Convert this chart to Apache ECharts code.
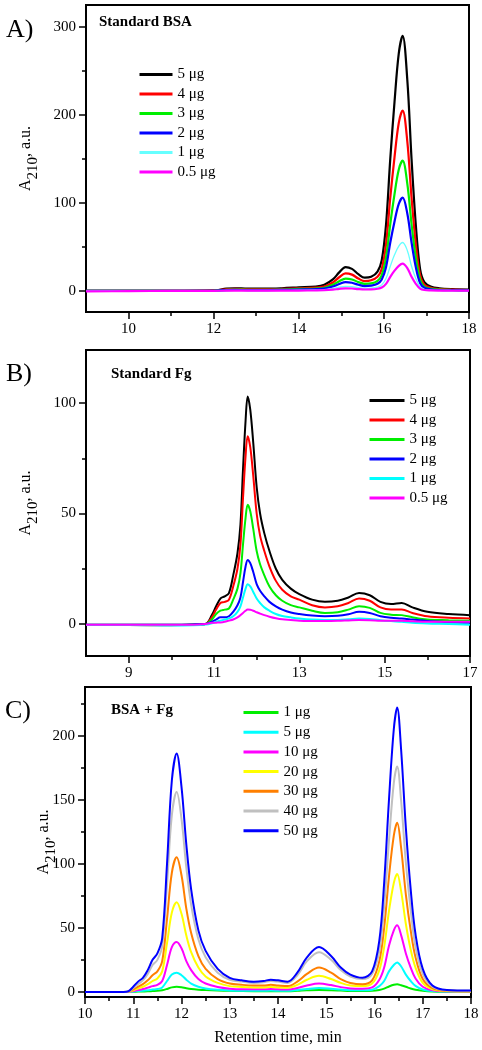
<!DOCTYPE html>
<html><head><meta charset="utf-8">
<script src="https://cdn.jsdelivr.net/npm/echarts@6/dist/echarts.min.js"></script>
<style>html,body{margin:0;padding:0;background:#fff}#c{width:482px;height:1050px}</style>
</head><body><div id="c"></div>
<script>
// ---------- Panel A: Standard BSA ----------
const tA = [9,10,11,12,12.3,12.5,12.8,13.2,13.6,14.0,14.4,14.6,14.8,14.95,15.1,15.25,15.4,15.55,15.7,15.85,15.95,16.05,16.15,16.25,16.35,16.44,16.55,16.65,16.75,16.85,16.95,17.1,17.3,17.6,18];
const aNames = ['5 μg','4 μg','3 μg','2 μg','1 μg','0.5 μg'];
const aColors = ['#000000','#ff0000','#00ee00','#0000ff','#66ffff','#ff00ff'];
const a5 = [0,0,0,0.5,2.5,3,2.5,2.5,3,4,5,7,13,21,27,25,19,15,16,22,35,75,150,215,270,290,240,150,75,25,10,5,3,2,1.5];
const a4 = [0,0,0,0.3,1.8,2.2,1.8,1.8,2.2,3,3.7,5,9.5,15.5,20,18.5,14,11,12,16,25,53,106,152,191,205,170,106,53,18,7,3.5,2,1.5,1];
const a3 = [0,0,0,0.2,1.3,1.6,1.3,1.3,1.6,2.2,2.7,3.6,7,11,14,13,10,8,8.5,11.5,18,38,76,110,138,148,122,76,38,13,5,2.5,1.5,1,0.7];
const a2 = [0,0,0,0.1,0.9,1.1,0.9,0.9,1.1,1.5,1.9,2.6,5,7.8,10,9.2,7,5.5,6,8.2,13,27,55,79,99,106,88,55,27,9,3.5,1.8,1,0.7,0.5];
const a1 = [0,0,0,0,0.5,0.6,0.5,0.5,0.6,0.8,1,1.4,2.7,4.2,5.2,4.8,3.6,2.9,3.1,4.3,6.8,14,28,41,51,55,46,28,14,4.7,1.8,0.9,0.5,0.4,0.3];
const a05 = [-0.5,-0.3,0,0,0.3,0.3,0.3,0.3,0.3,0.4,0.5,0.7,1.4,2.3,2.9,2.7,2,1.6,1.7,2.4,3.8,8,16,23,28.5,31,26,16,8,2.6,1,0.5,0.3,0.2,0.2];
const aYLabels = [0,100,200,300], aYMinor = [50,150,250];
const aXLabels = [10,12,14,16,18], aXMinor = [11,13,15,17];

// ---------- Panel B: Standard Fg ----------
const tB = [8,9,10,10.5,10.8,10.95,11.05,11.15,11.25,11.35,11.45,11.55,11.62,11.68,11.74,11.79,11.85,11.92,12.0,12.08,12.18,12.3,12.45,12.6,12.8,13.0,13.3,13.6,13.9,14.15,14.4,14.65,14.9,15.15,15.4,15.65,16.0,16.5,17];
const bNames = ['5 μg','4 μg','3 μg','2 μg','1 μg','0.5 μg'];
const bColors = ['#000000','#ff0000','#00ee00','#0000ff','#00ffff','#ff00ff'];
const b5 = [-0.5,-0.5,-0.5,-0.3,0,4,8,11.5,12.5,14,22,32,45,70,92,103,97,82,62,50,41,33,25,20,16,13.5,11,10,10.5,12,14,13,10,9,9.5,7.5,5.5,4.5,4];
const b4 = [-0.5,-0.5,-0.6,-0.4,0,3,6.5,9.5,10,11,17,25,36,57,76,85,80,67,50,40,33,26,19.5,15.5,12.5,11,8.5,7.5,8,9.5,11.5,10.5,7.5,6.5,6.5,5,3.5,2.8,2.5];
const b3 = [-0.3,-0.3,-0.3,-0.2,0,2,4.5,6,6.5,7,11,16,23,36,48,54,51,43,33,27,22,17,13,10.5,8.5,7.5,6,5,5.3,6.5,8,7.3,5,4.2,4,3,2,1.7,1.5];
const b2 = [-0.3,-0.3,-0.3,-0.2,0,1,2,3,3,3.5,5.5,8.5,12,19,26,29,27.5,23.5,18,15,12.5,10,8,6.5,5.2,4.5,3.8,3.5,3.7,4.4,5.5,5,3.5,2.8,2.5,2,1.3,0.8,0.5];
const b1 = [-0.5,-0.5,-0.7,-0.6,-0.3,0.3,1,1.5,2,2.5,3.5,5.5,8,12,16,18,17,14.5,11.5,9.5,7.5,6,4.5,3.6,3,2.5,2,1.8,1.8,2.1,2.5,2.3,1.7,1.3,1,0.5,0.2,0,-0.3];
const b05 = [-0.3,-0.3,-0.3,-0.3,0,0.5,0.6,0.7,1,1.5,2,3,4,5,6,6.5,6.4,6,5.3,4.7,4,3.3,2.6,2.1,1.8,1.5,1.3,1.3,1.4,1.6,1.8,1.7,1.5,1.4,1.4,1.2,1,1,1];
const bYLabels = [0,50,100], bYMinor = [25,75];
const bXLabels = [9,11,13,15,17], bXMinor = [10,12,14,16];

// ---------- Panel C: BSA + Fg ----------
const tC = [10,10.8,10.9,11.0,11.1,11.2,11.3,11.4,11.5,11.6,11.7,11.8,11.9,12.0,12.1,12.2,12.35,12.5,12.75,13.0,13.25,13.5,13.7,13.85,14.0,14.2,14.4,14.6,14.85,15.1,15.3,15.5,15.75,15.95,16.1,16.2,16.3,16.4,16.47,16.55,16.65,16.75,16.85,17.0,17.2,17.5,18];
const cNames = ['1 μg','5 μg','10 μg','20 μg','30 μg','40 μg','50 μg'];
const cColors = ['#00ee00','#00ffff','#ff00ff','#ffff00','#ff7f00','#c0c0c0','#0000ff'];
const c1 = [0,0,0,0.1,0.2,0.3,0.4,0.6,0.8,1.3,2.3,3.5,4,3.6,2.8,2.2,1.7,1.4,1.1,0.8,0.6,0.5,0.5,0.5,0.5,0.5,0.8,1.2,1.5,1.3,1,0.7,0.6,0.8,1.5,2.5,4.2,5.6,6,5.2,4,2.6,1.6,0.8,0.3,0.1,0];
const c5 = [0,0,0,0.3,0.6,0.9,1.3,1.8,2.2,3.5,8.5,13.5,15,13,9.5,6.5,4,2.6,1.6,1.1,0.9,0.9,0.9,1,0.9,0.8,1.4,2.3,3,2.5,1.8,1.3,1.2,1.7,4.5,8.5,16,21,23,20,13.5,8.5,4.7,1.8,0.6,0.2,0.1];
const c10 = [0,0,0,0.7,1.4,2.2,3.3,4.5,5.5,8.5,21,35,39,34,24,17,10,6.5,3.8,2.5,2,2,2,2.2,2,1.8,3,5,6.5,5.3,3.7,2.7,2.5,3.5,9.5,19,36,48,52,44.5,30,19,10.5,4,1.2,0.4,0.2];
const c20 = [0,0,0.1,1.3,2.6,4,6,8.5,10.5,16,38,62,70,61,44,31,19,12,7,4.5,3.8,3.5,3.5,3.8,3.5,3.2,5.5,9.5,12.5,10,7,5,4.5,6.5,17,35,63,85,92,79,53,33,19,7,2.1,0.7,0.3];
const c30 = [0,0,0.2,2,4,6,9,13,16,24,57,93,105,91,65,46,28,18,10,6.5,5.5,5,5,5.5,5,4.5,8,14,19,15,10,7,6,9,24,50,90,122,132,113,76,48,27,10,3,1,0.5];
const c40 = [0,0,0.3,3,6,9,14,21,25,36,84,138,156,135,97,68,41,27,15,9.5,8,7,7.5,8.5,8,7,13,24,31,25,17,12,10,14,32,67,118,163,176,150,101,64,35,14,4,1.2,0.8];
const c50 = [0,0,0.5,4,8,11,17,25,30,42,100,165,186,160,115,80,48,32,18,11,9,8,8.5,9.5,9,8,15,27,35,28,19,13.5,11,16,40,85,150,205,222,190,128,80,45,18,5,1.5,1];
const cYLabels = [0,50,100,150,200], cYMinor = [25,75,125,175,225];
const cXLabels = [10,11,12,13,14,15,16,17,18], cXMinor = [10.5,11.5,12.5,13.5,14.5,15.5,16.5,17.5];

const FONT = '"Liberation Serif","Times New Roman",serif';
const grids = [
  {left:86, top:5, width:383, height:307},
  {left:86, top:350, width:384, height:306},
  {left:85, top:687, width:386, height:310}
];
const xr = [[9,18],[8,17],[10,18]];
const yr = [[-24,325],[-14.5,124],[-4,238]];
const xl = [[aXLabels,aXMinor],[bXLabels,bXMinor],[cXLabels,cXMinor]];
const yl = [[aYLabels,aYMinor],[bYLabels,bYMinor],[cYLabels,cYMinor]];
const yGap = [45,45,26];

const xAxes = [], yAxes = [];
for (let g=0; g<3; g++) {
  xAxes.push({type:'value', gridIndex:g, position:'bottom', min:xr[g][0], max:xr[g][1],
    axisLine:{show:true, onZero:false, lineStyle:{color:'#000', width:2}},
    axisTick:{show:true, customValues:xl[g][0], length:7, lineStyle:{color:'#000', width:1.5}},
    axisLabel:{show:true, customValues:xl[g][0], margin:10, color:'#000', fontSize:15, fontFamily:FONT},
    splitLine:{show:false},
    name: g===2 ? 'Retention time, min' : '', nameLocation:'middle', nameGap:33, nameMoveOverlap:false,
    nameTextStyle:{color:'#000', fontSize:16, fontFamily:FONT}
  });
  xAxes.push({type:'value', gridIndex:g, position:'bottom', min:xr[g][0], max:xr[g][1],
    axisLine:{show:false, onZero:false},
    axisTick:{show:true, customValues:xl[g][1], length:4, lineStyle:{color:'#000', width:1.5}},
    axisLabel:{show:false}, splitLine:{show:false}});
  yAxes.push({type:'value', gridIndex:g, position:'left', min:yr[g][0], max:yr[g][1],
    axisLine:{show:true, onZero:false, lineStyle:{color:'#000', width:2}},
    axisTick:{show:true, customValues:yl[g][0], length:7, lineStyle:{color:'#000', width:1.5}},
    axisLabel:{show:true, customValues:yl[g][0], margin:10, color:'#000', fontSize:15, fontFamily:FONT},
    splitLine:{show:false},
    name:'{a|A}{s|210}{a|, a.u.}', nameLocation:'middle', nameRotate:90, nameGap:yGap[g], nameMoveOverlap:false,
    nameTextStyle:{color:'#000', fontFamily:FONT, fontSize:16,
      rich:{a:{fontSize:16, fontFamily:FONT, color:'#000', verticalAlign:'top'},
            s:{fontSize:15, fontFamily:FONT, color:'#000', verticalAlign:'bottom', padding:[8,0,0,0]}}}
  });
  yAxes.push({type:'value', gridIndex:g, position:'left', min:yr[g][0], max:yr[g][1],
    axisLine:{show:false, onZero:false},
    axisTick:{show:true, customValues:yl[g][1], length:4, lineStyle:{color:'#000', width:1.5}},
    axisLabel:{show:false}, splitLine:{show:false}});
}

function mk(name, color, t, v, g, w) {
  return {type:'line', name, xAxisIndex:2*g, yAxisIndex:2*g, data:t.map((x,i)=>[x,v[i]]),
    showSymbol:false, symbol:'none', smooth:0.35, color,
    lineStyle:{color, width:w}, emphasis:{disabled:true}, silent:true, animation:false};
}
const series = [];
[a5,a4,a3,a2,a1,a05].forEach((v,i)=>series.push(mk(aNames[i], aColors[i], tA, v, 0, i===4?1.3:2.2)));
[b5,b4,b3,b2,b1,b05].forEach((v,i)=>series.push(mk(bNames[i]+' ', bColors[i], tB, v, 1, 2)));
[c1,c5,c10,c20,c30,c40,c50].forEach((v,i)=>series.push(mk(cNames[i]+'  ', cColors[i], tC, v, 2, 2)));

function leg(data, left, top, gap, w) {
  return {orient:'vertical', left, top, padding:0, itemWidth:w, itemHeight:14, itemGap:gap,
    data: data, formatter: n=>n.trim(), selectedMode:false,
    lineStyle:{width:3}, itemStyle:{opacity:0, borderWidth:0},
    textStyle:{color:'#000', fontSize:15, fontFamily:FONT}};
}

const chart = echarts.init(document.getElementById('c'), null, {renderer:'canvas'});
chart.setOption({
  animation:false,
  backgroundColor:'#fff',
  grid: grids.map(g=>Object.assign({show:true, borderColor:'#000', borderWidth:2, backgroundColor:'transparent', containLabel:false}, g)),
  xAxis: xAxes, yAxis: yAxes, series,
  legend: [
    leg(aNames, 138, 67, 4.5, 33),
    leg(bNames.map(n=>n+' '), 368, 393, 4.5, 35),
    leg(cNames.map(n=>n+'  '), 242, 705, 4.7, 35)
  ],
  graphic: [
    {type:'text', x:6, y:30, style:{text:'A)', font:'26px '+FONT, fill:'#000', align:'left', verticalAlign:'middle'}},
    {type:'text', x:6, y:374, style:{text:'B)', font:'26px '+FONT, fill:'#000', align:'left', verticalAlign:'middle'}},
    {type:'text', x:5, y:711, style:{text:'C)', font:'26px '+FONT, fill:'#000', align:'left', verticalAlign:'middle'}},
    {type:'text', x:99, y:22, style:{text:'Standard BSA', font:'bold 15px '+FONT, fill:'#000', align:'left', verticalAlign:'middle'}},
    {type:'text', x:111, y:374, style:{text:'Standard Fg', font:'bold 15px '+FONT, fill:'#000', align:'left', verticalAlign:'middle'}},
    {type:'text', x:111, y:710, style:{text:'BSA + Fg', font:'bold 15px '+FONT, fill:'#000', align:'left', verticalAlign:'middle'}}
  ]
});
</script></body></html>
